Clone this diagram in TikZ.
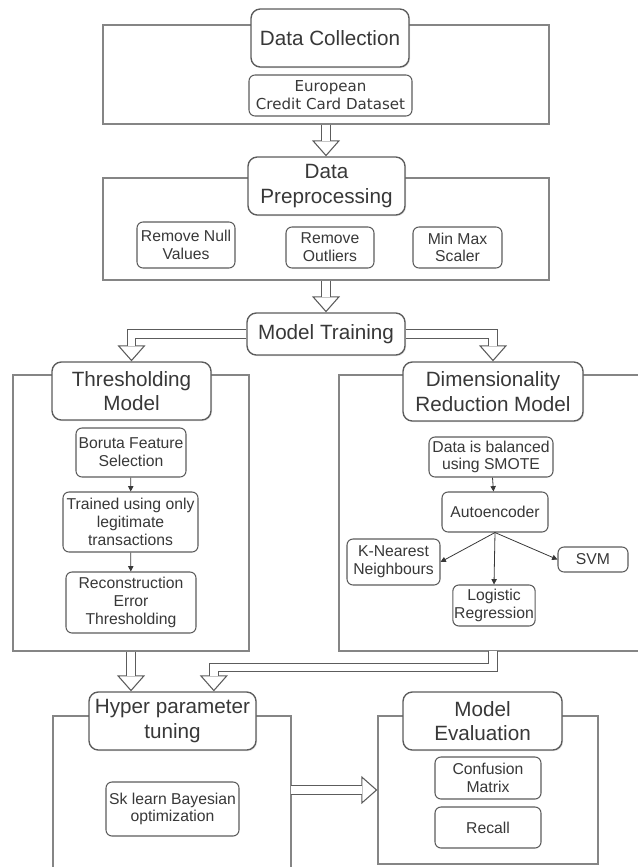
\documentclass[tikz,border=0pt]{standalone}
\usepackage{fontspec}
\setmainfont{Liberation Sans}
\newfontfamily\eurofont{DejaVu Sans}
\usetikzlibrary{arrows.meta,shadows}

\definecolor{framegray}{HTML}{858585}
\definecolor{boxgray}{HTML}{5C5C5C}
\definecolor{txtgray}{HTML}{383838}

\begin{document}
\begin{tikzpicture}[x=0.75pt,y=-0.75pt,
    frame/.style={draw=framegray,line width=1pt,inner sep=0pt},
    title/.style={draw=boxgray,line width=1pt,rounded corners=7pt,fill=white,align=center,text=txtgray,
        font=\fontsize{15.5}{18.5}\selectfont,inner sep=1pt,
        drop shadow={opacity=0.25,shadow xshift=0.8pt,shadow yshift=-0.8pt}},
    item/.style={draw=boxgray,line width=0.8pt,rounded corners=4.5pt,fill=white,align=center,text=txtgray,
        font=\fontsize{11.8}{13.3}\selectfont,inner sep=1pt},
    flow/.style={draw=boxgray,line width=0.8pt,double=white,double distance=5.5pt,shorten >=11.5pt},
    flowhead/.style={draw=boxgray,line width=0.8pt,-{Triangle[length=12pt,width=21pt,fill=white]}},
    link/.style={draw=txtgray,line width=0.6pt,-{Triangle[length=4pt,width=4pt]}}]
        \useasboundingbox (0,0) rectangle (637,867);

        % frames
        \node[frame,minimum width=334.5pt,minimum height=74.25pt] at (326,74.5) (f1) {};
        \node[frame,minimum width=334.5pt,minimum height=76.5pt] at (326,229) (f2) {};
        \node[frame,minimum width=177pt,minimum height=207pt] at (131,513) (f3) {};
        \draw[frame] (640,375) -- (339,375) -- (339,651) -- (640,651);
        \draw[frame] (53,868) -- (53,716) -- (291,716) -- (291,868);
        \node[frame,minimum width=165pt,minimum height=111pt] at (488,790) (f6) {};
        \coordinate (f4s) at (493,651);
        \coordinate (hypr) at (291,790);

        % titles
        \node[title,minimum width=118.5pt,minimum height=43.5pt] at (330,38) (coll) {Data Collection};
        \node[title,minimum width=117.75pt,minimum height=43.5pt] at (326.5,186) (prep) {Data\\Preprocessing};
        \node[title,minimum width=118.5pt,minimum height=31.5pt] at (326,334) (train) {Model Training};
        \node[title,minimum width=119.25pt,minimum height=43.5pt] at (131.5,391) (thr) {Thresholding\\Model};
        \node[title,minimum width=135pt,minimum height=44.25pt] at (493,391.5) (dim) {Dimensionality\\Reduction Model};
        \node[title,minimum width=125.25pt,minimum height=43.5pt] at (172.5,721) (hyp) {Hyper parameter\\tuning};
        \node[title,minimum width=119.25pt,minimum height=43.5pt] at (482.5,721) (eval) {Model\\Evaluation};

        % inner boxes
        \node[item,font=\eurofont\fontsize{11.3}{13.5}\selectfont,minimum width=122.25pt,minimum height=30.75pt] at (330.5,95.5) (euro) {European\\Credit Card Dataset};
        \node[item,minimum width=73.5pt,minimum height=34.5pt] at (186,245) (null) {Remove Null\\Values};
        \node[item,minimum width=66pt,minimum height=30.75pt] at (330,247.5) (outl) {Remove\\Outliers};
        \node[item,minimum width=66.75pt,minimum height=30.75pt] at (457.5,247.5) (mm) {Min Max\\Scaler};
        \node[item,minimum width=82.5pt,minimum height=36.75pt] at (131,452.5) (bor) {Boruta Feature\\Selection};
        \node[item,minimum width=101.25pt,minimum height=45pt] at (130.5,522) (trn) {Trained using only\\legitimate\\transactions};
        \node[item,minimum width=97.5pt,minimum height=45.75pt] at (131,602.5) (rec) {Reconstruction\\Error\\Thresholding};
        \node[item,minimum width=93pt,minimum height=30pt] at (491,457) (smote) {Data is balanced\\using SMOTE};
        \node[item,minimum width=79.5pt,minimum height=30pt] at (495,512) (auto) {Autoencoder};
        \node[item,minimum width=69.75pt,minimum height=34.5pt] at (393.5,562) (knn) {K-Nearest\\Neighbours};
        \node[item,minimum width=52.5pt,minimum height=18.75pt] at (593,559.5) (svm) {SVM};
        \node[item,minimum width=61.5pt,minimum height=30.75pt] at (494,605.5) (lr) {Logistic\\Regression};
        \node[item,minimum width=99.75pt,minimum height=40.5pt] at (172.5,809) (sk) {Sk learn Bayesian\\optimization};
        \node[item,minimum width=79.5pt,minimum height=31.5pt] at (488,778) (conf) {Confusion\\Matrix};
        \node[item,minimum width=79.5pt,minimum height=30.75pt] at (488,827.5) (recall) {Recall};

        % thin arrows
        \draw[link] (bor) -- (trn);
        \draw[link] (trn) -- (rec);
        \draw[link] (smote) -- (auto);
        \draw[link] (auto.south) -- (knn.east);
        \draw[link] (auto.south) -- (lr.north);
        \draw[link] (auto.south) -- (svm.west);

        % hollow arrows
        \draw[flowhead] ([yshift=15pt]f1.south |- prep.north) -- (f1.south |- prep.north);
        \draw[flow] (f1.south) -- (f1.south |- prep.north);
        \draw[flowhead] ([yshift=15pt]f2.south |- train.north) -- (f2.south |- train.north);
        \draw[flow] (f2.south) -- (f2.south |- train.north);
        \draw[flowhead] ([yshift=15pt]thr.north) -- (thr.north);
        \draw[flow] (train.west) -| (thr.north);
        \draw[flowhead] ([yshift=15pt]dim.north) -- (dim.north);
        \draw[flow] (train.east) -| (dim.north);
        \draw[flowhead] ([yshift=15pt]f3.south |- hyp.north) -- (f3.south |- hyp.north);
        \draw[flow] (f3.south) -- (f3.south |- hyp.north);
        \draw[flowhead] ([xshift=31pt,yshift=15pt]hyp.north) -- ([xshift=31pt]hyp.north);
        \draw[flow] (f4s) |- ([xshift=31pt,yshift=18pt]hyp.north) -- ([xshift=31pt]hyp.north);
        \draw[flowhead] ([xshift=-15pt]f6.west) -- (f6.west);
        \draw[flow] (hypr) -- (f6.west);
    \end{tikzpicture}
\end{document}
